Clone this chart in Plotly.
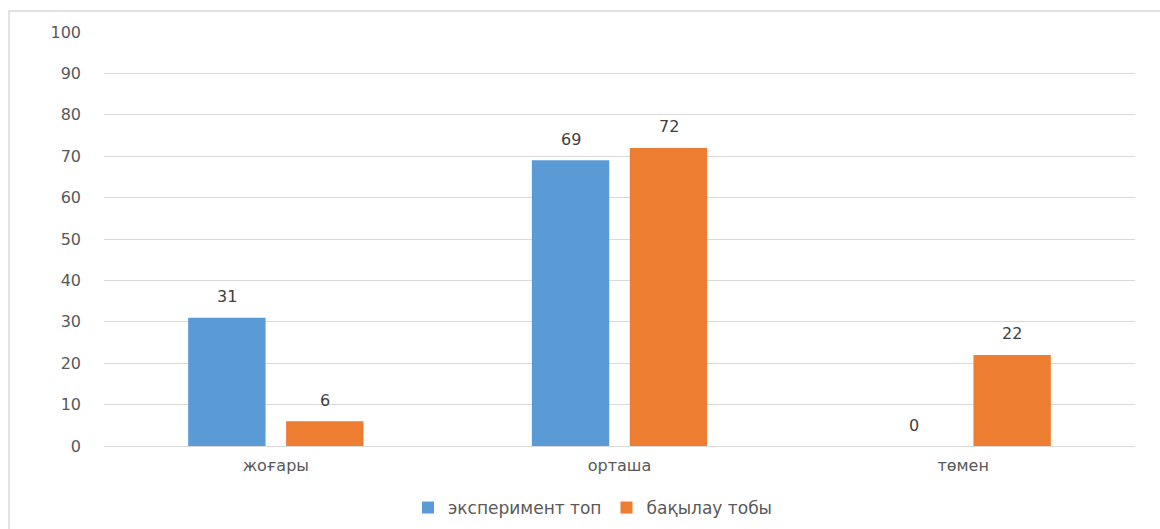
import plotly.graph_objects as go

categories = ["жоғары", "орташа", "төмен"]
series_names = ["эксперимент топ", "бақылау тобы"]
exp_values = [31, 69, 0]
ctrl_values = [6, 72, 22]
y_ticks = [0, 10, 20, 30, 40, 50, 60, 70, 80, 90, 100]

colors = ["#5B9BD5", "#ED7D31"]
FONT = "DejaVu Sans"

fig = go.Figure()
for name, vals, col in zip(series_names, [exp_values, ctrl_values], colors):
    fig.add_trace(go.Bar(
        x=categories, y=vals, name=name,
        marker=dict(color=col, line=dict(width=0)),
    ))

# data labels above bars
for i, (vals, shift) in enumerate(zip([exp_values, ctrl_values], [-49, 49])):
    for c, v in zip(categories, vals):
        fig.add_annotation(x=c, y=v, text=str(v), showarrow=False,
                           xshift=shift, yshift=21,
                           font=dict(family=FONT, size=16, color="#404040"))

W, H = 1160, 529
L, R, T, B = 104, 25, 32, 83
pw, ph = W - L - R, H - T - B

def px2x(p):
    return (p - L) / pw

def py2y(p):
    return (H - B - p) / ph

fig.add_shape(type="rect", xref="paper", yref="paper",
              x0=px2x(9), x1=px2x(W + 10), y0=py2y(H + 10), y1=py2y(11),
              line=dict(color="#D9D9D9", width=1.5), fillcolor="rgba(0,0,0,0)",
              layer="below")

fig.update_layout(
    width=W, height=H,
    margin=dict(l=L, r=R, t=T, b=B, autoexpand=False),
    paper_bgcolor="white", plot_bgcolor="white",
    barmode="group", bargap=0.43, bargroupgap=0.21,
    font=dict(family=FONT, color="#595959", size=15),
    showlegend=True,
    legend=dict(orientation="h", x=px2x(593), xanchor="center",
                y=py2y(508), yanchor="middle",
                font=dict(family=FONT, size=17, color="#595959"),
                itemwidth=30, traceorder="normal"),
    xaxis=dict(showgrid=False, showline=False, ticks="", automargin=False,
               tickfont=dict(family=FONT, size=16, color="#595959"),
               ticklabelstandoff=8),
    yaxis=dict(range=[0, 100], tickvals=y_ticks, showgrid=True, automargin=False,
               gridcolor="#D9D9D9", gridwidth=1.3, zeroline=True,
               zerolinecolor="#D9D9D9", zerolinewidth=1.3, showline=False,
               ticks="", tickfont=dict(family=FONT, size=16, color="#595959"),
               ticklabelstandoff=22),
)

fig.write_html("out.html")
